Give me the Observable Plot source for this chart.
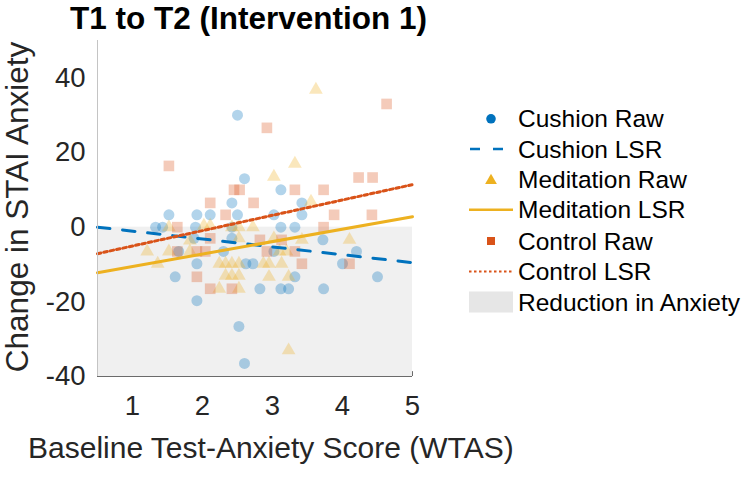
<!DOCTYPE html>
<html>
<head>
<meta charset="utf-8">
<script src="https://cdn.jsdelivr.net/npm/d3@7"></script>
<script src="https://cdn.jsdelivr.net/npm/@observablehq/plot@0.6"></script>
<style>
  html, body { margin: 0; padding: 0; background: #fff; }
  #wrap { position: relative; width: 753px; height: 477px; overflow: hidden; }
  #wrap > svg { position: absolute; left: 0; top: 0; }
  text { font-family: "Liberation Sans", Arial, Helvetica, sans-serif; }
</style>
</head>
<body>
<div id="wrap"></div>
<script>
// ---- Data ----
const cushionX = [2.5, 2.6, 2.42, 3.12, 3.42, 1.52, 1.92, 2.11, 2.5, 3.02, 3.42, 1.33, 1.43, 1.9, 2.42, 3.12, 3.32, 1.88, 2.42, 3.72, 1.66, 2.3, 3.02, 4.2, 1.92, 2.62, 2.72, 4.0, 1.61, 3.32, 4.5, 2.82, 3.12, 3.23, 3.73, 1.92, 2.52, 2.6];
const cushionY = [30, 13, 6.5, 10, 6.5, 3.3, 3.3, 3.3, 3.3, 3.3, 3.3, 0, 0, 0, 0, 0, 0, -3, -3, -3.4, -6.5, -6.5, -6.5, -6.5, -9.8, -9.8, -9.8, -9.8, -13.3, -13.3, -13.3, -16.5, -16.5, -16.5, -16.5, -19.7, -26.6, -36.5];

const meditationX = [3.62, 3.32, 3.02, 3.55, 1.52, 2.02, 2.11, 2.42, 2.52, 2.72, 1.82, 2.52, 3.02, 3.42, 4.1, 1.21, 1.52, 1.82, 3.1, 3.2, 1.36, 2.24, 2.33, 2.42, 2.52, 2.87, 2.95, 3.13, 2.33, 2.42, 2.52, 2.95, 3.23, 2.24, 2.52, 3.23];
const meditationY = [36.8, 17, 13.5, 6.8, 0, 0.4, 0.4, 0, 0, 0, -3.6, -3, -3, -3.4, -3.4, -6.5, -6.5, -6.5, -6.5, -6.5, -9.8, -9.8, -9.8, -9.8, -9.8, -9.8, -9.8, -9.8, -13, -13, -13, -13.3, -13.3, -16.5, -16.5, -33];

const controlX = [4.63, 2.92, 1.52, 4.23, 4.43, 2.45, 2.53, 3.32, 3.73, 2.11, 2.73, 2.33, 3.88, 4.42, 1.64, 3.73, 2.11, 2.82, 3.13, 1.92, 2.04, 2.92, 3.32, 1.64, 3.42, 4.1, 1.92, 2.11, 2.42];
const controlY = [33, 26.6, 16.4, 13.3, 13.3, 10, 10, 10, 10, 6.5, 6.5, 3.3, 3.3, 3.3, 0, 0, -3, -3.4, -3.4, -6.5, -6.5, -6.5, -6.5, -6.5, -9.8, -9.8, -13.3, -16.5, -16.5];

// least-squares regression lines, read at the two ends of the x range
const lsrX = [0.5, 5];
const cushionLSR = [0, -9.5];
const meditationLSR = [-12.2, 2.8];
const controlLSR = [-7.1, 11.4];

// shaded "reduction in anxiety" region
const shadeX = [0.5, 5];
const shadeY = [-40, 0];

const xTicks = [1, 2, 3, 4, 5];
const yTicks = [-40, -20, 0, 20, 40];
const xDomain = [0.5, 5];
const yDomain = [-40, 50];

const legendLabels = ["Cushion Raw", "Cushion LSR", "Meditation Raw", "Meditation LSR", "Control Raw", "Control LSR", "Reduction in Anxiety"];

const C_BLUE = "#0072BD", C_YEL = "#EDB120", C_RED = "#D95319";

const pts = (xs, ys) => xs.map((x, i) => ({x, y: ys[i]}));
const cushion = pts(cushionX, cushionY);
const meditation = pts(meditationX, meditationY);
const control = pts(controlX, controlY);
const line = (ys) => lsrX.map((x, i) => ({x, y: ys[i]}));

const chart = Plot.plot({
  width: 753,
  height: 477,
  marginLeft: 97,
  marginRight: 341,
  marginTop: 40,
  marginBottom: 101,
  x: {domain: xDomain},
  y: {domain: yDomain},
  style: {fontFamily: '"Liberation Sans", Arial, Helvetica, sans-serif', color: "#262626", background: "transparent"},
  marks: [
    Plot.rect([0], {x1: shadeX[0], x2: shadeX[1], y1: shadeY[0], y2: shadeY[1], fill: "#f0f0f0"}),
    Plot.dot(cushion, {x: "x", y: "y", r: 5.5, fill: C_BLUE, fillOpacity: 0.3, stroke: "none"}),
    Plot.dot(meditation, {x: "x", y: "y", r: 5.1, symbol: "triangle", fill: C_YEL, fillOpacity: 0.3, stroke: "none"}),
    Plot.dot(control, {x: "x", y: "y", r: 6, symbol: "square", fill: C_RED, fillOpacity: 0.3, stroke: "none"}),
    Plot.line(line(cushionLSR), {x: "x", y: "y", stroke: C_BLUE, strokeWidth: 3, strokeDasharray: "12.5,12.7"}),
    Plot.line(line(meditationLSR), {x: "x", y: "y", stroke: C_YEL, strokeWidth: 3}),
    Plot.line(line(controlLSR), {x: "x", y: "y", stroke: C_RED, strokeWidth: 3, strokeDasharray: "3.5,3"}),
    Plot.ruleX([xDomain[0]], {stroke: "#c4c4c4", strokeWidth: 1}),
    Plot.ruleY([yDomain[0]], {stroke: "#6b6b6b", strokeWidth: 1}),
    Plot.ruleX([xDomain[1]], {y1: yDomain[0], y2: yDomain[0] + 1.3, stroke: "#6b6b6b", strokeWidth: 1}),
    Plot.axisX({ticks: xTicks, tickSize: 0, tickPadding: 19, fontSize: 27.5, label: null, tickFormat: d => String(d), fill: "#262626"}),
    Plot.axisY({ticks: yTicks, tickSize: 0, tickPadding: 12, fontSize: 27.5, label: null, tickFormat: d => String(d), fill: "#262626"})
  ]
});

const wrap = document.getElementById("wrap");
wrap.appendChild(chart);

// ---- Overlay: title, axis labels, legend ----
const ov = d3.select(wrap).append("svg")
  .attr("width", 753).attr("height", 477)
  .style("position", "absolute").style("left", 0).style("top", 0)
  .style("font-family", '"Liberation Sans", Arial, Helvetica, sans-serif');

ov.append("text").attr("x", 70).attr("y", 29)
  .attr("font-size", 31.5).attr("font-weight", "bold").attr("fill", "#000")
  .text("T1 to T2 (Intervention 1)");

ov.append("text").attr("transform", "translate(28,207) rotate(-90)")
  .attr("text-anchor", "middle").attr("font-size", 31.5).attr("fill", "#262626")
  .text("Change in STAI Anxiety");

ov.append("text").attr("x", 28).attr("y", 458)
  .attr("text-anchor", "start").attr("font-size", 30).attr("fill", "#262626")
  .text("Baseline Test-Anxiety Score (WTAS)");

// legend
const baselines = [127.3, 157.5, 188, 218.3, 249.5, 280, 310.5];
const lg = ov.append("g");
legendLabels.forEach((lab, i) => {
  lg.append("text").attr("x", 518).attr("y", baselines[i])
    .attr("font-size", 24.5).attr("fill", "#000").text(lab);
});
const cy = baselines.map(b => b - 8.5);
lg.append("circle").attr("cx", 491).attr("cy", cy[0]).attr("r", 4.8).attr("fill", C_BLUE);
lg.append("line").attr("x1", 470).attr("x2", 503).attr("y1", cy[1]).attr("y2", cy[1])
  .attr("stroke", C_BLUE).attr("stroke-width", 2.5).attr("stroke-dasharray", "10,13");
lg.append("path").attr("d", d3.symbol(d3.symbolTriangle, 60)()).attr("transform", `translate(491,${cy[2] + 1})`).attr("fill", C_YEL);
lg.append("line").attr("x1", 469).attr("x2", 513).attr("y1", cy[3]).attr("y2", cy[3])
  .attr("stroke", C_YEL).attr("stroke-width", 2.5);
lg.append("rect").attr("x", 487).attr("y", cy[4] - 4).attr("width", 8).attr("height", 8).attr("fill", C_RED);
lg.append("line").attr("x1", 469).attr("x2", 513).attr("y1", cy[5]).attr("y2", cy[5])
  .attr("stroke", C_RED).attr("stroke-width", 2).attr("stroke-dasharray", "2.5,2.5");
lg.append("rect").attr("x", 469).attr("y", cy[6] - 10.5).attr("width", 44).attr("height", 21).attr("fill", "#e6e6e6");
</script>
</body>
</html>
